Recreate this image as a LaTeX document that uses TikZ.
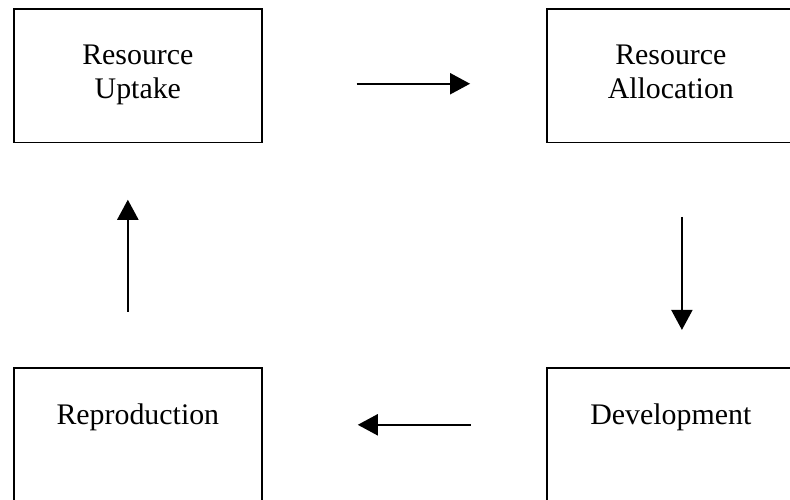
\documentclass[tikz,border=0pt]{standalone}
\usepackage{fontspec}
\setmainfont{Liberation Serif}
\usetikzlibrary{arrows.meta,positioning}

\begin{document}
\begin{tikzpicture}[scale=0.2,
		stage/.style={draw=black, line width=1pt, minimum width=141.1pt, minimum height=76pt, anchor=north west},
		stagetext/.style={align=center, font=\fontsize{17}{19.2}\selectfont},
		flow/.style={black, line width=1.1pt, -{Triangle[length=11.4pt,width=12pt]}}]
		\tikzstyle{every node}+=[inner sep=0pt]
		\useasboundingbox (0,0) rectangle (79,-50);
		\node [stage] (uptake) at (1.3,-0.8) {};
		\node [stagetext, below=20.8pt of uptake.north] (uptaketext) {Resource\\Uptake};
		\node [stage] (alloc) at (54.6,-0.8) {};
		\node [stagetext, below=20.8pt of alloc.north] (alloctext) {Resource\\Allocation};
		\node [stage] (repro) at (1.3,-36.7) {};
		\node [stagetext, below=20.8pt of repro.north] (reprotext) {Reproduction};
		\node [stage] (devel) at (54.6,-36.7) {};
		\node [stagetext, below=20.8pt of devel.north] (develtext) {Development};
		% shifts are scaled with the picture (x5)
		\draw [flow, shorten <=53.5pt, shorten >=43.2pt] ([yshift=-23pt]uptake.east) -- ([yshift=-23pt]alloc.west);
		\draw [flow, shorten <=41.8pt, shorten >=21.1pt] ([xshift=31.5pt]alloc.south) -- ([xshift=31.5pt]devel.north);
		\draw [flow, shorten <=42.7pt, shorten >=54.1pt] ([yshift=28pt]devel.west) -- ([yshift=28pt]repro.east);
		\draw [flow, shorten <=31.3pt, shorten >=32.1pt] ([xshift=-28.5pt]repro.north) -- ([xshift=-28.5pt]uptake.south);
\end{tikzpicture}
\end{document}
